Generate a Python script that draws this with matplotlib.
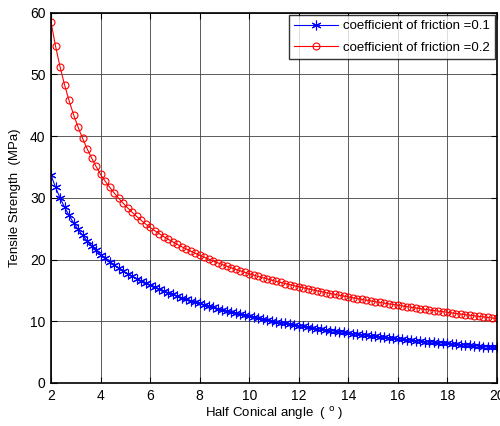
import matplotlib
matplotlib.use("Agg")
import matplotlib.pyplot as plt
import numpy as np

plt.rcParams['font.family'] = ['Liberation Sans', 'DejaVu Sans']

## half conical angle grid (degrees), 100 samples from 2 to 20
angle = np.linspace(2, 20, 100)

## tensile strength (MPa)
strength_mu01 = [
    33.7, 31.72, 30.00, 28.49, 27.16, 25.96, 24.89, 23.92, 23.04, 22.23, 21.49, 20.8,
    20.20, 19.63, 19.11, 18.62, 18.16, 17.73, 17.32, 16.93, 16.57, 16.22, 15.9,
    15.56, 15.23, 14.93, 14.63, 14.35, 14.08, 13.82, 13.58, 13.34, 13.12, 12.9,
    12.68, 12.46, 12.26, 12.06, 11.87, 11.68, 11.50, 11.33, 11.17, 11.00, 10.85,
    10.69, 10.53, 10.37, 10.22, 10.08, 9.94, 9.80, 9.67, 9.54, 9.42, 9.3,
    9.18, 9.05, 8.94, 8.82, 8.71, 8.60, 8.50, 8.39, 8.29, 8.20, 8.1,
    8.00, 7.91, 7.82, 7.73, 7.64, 7.55, 7.47, 7.38, 7.30, 7.23, 7.15,
    7.07, 7.00, 6.93, 6.86, 6.79, 6.72, 6.65, 6.59, 6.52, 6.46, 6.4,
    6.33, 6.27, 6.21, 6.15, 6.09, 6.03, 5.97, 5.91, 5.86, 5.80, 5.75,
]
strength_mu02 = [
    58.5, 54.61, 51.27, 48.35, 45.79, 43.51, 41.48, 39.65, 37.99, 36.48, 35.10, 33.8,
    32.73, 31.74, 30.81, 29.95, 29.14, 28.39, 27.67, 27.00, 26.37, 25.77, 25.2,
    24.69, 24.21, 23.74, 23.30, 22.88, 22.48, 22.09, 21.72, 21.37, 21.03, 20.7,
    20.38, 20.07, 19.77, 19.48, 19.20, 18.93, 18.67, 18.42, 18.17, 17.94, 17.7,
    17.48, 17.27, 17.06, 16.86, 16.66, 16.47, 16.29, 16.11, 15.94, 15.77, 15.6,
    15.43, 15.27, 15.11, 14.95, 14.80, 14.65, 14.50, 14.36, 14.22, 14.08, 13.95,
    13.81, 13.68, 13.55, 13.42, 13.30, 13.17, 13.05, 12.94, 12.82, 12.71, 12.6,
    12.49, 12.37, 12.26, 12.15, 12.05, 11.94, 11.84, 11.74, 11.64, 11.55, 11.45,
    11.35, 11.25, 11.16, 11.06, 10.97, 10.88, 10.79, 10.70, 10.62, 10.53, 10.45,
]
labels = ["coefficient of friction =0.1", "coefficient of friction =0.2"]
x_ticks = [2, 4, 6, 8, 10, 12, 14, 16, 18, 20]
y_ticks = [0, 10, 20, 30, 40, 50, 60]

fig = plt.figure(figsize=(5.0, 4.26), dpi=100)
ax = fig.add_axes([0.102, 0.101, 0.892, 0.869])

## matlab-like asterisk: 6 spokes
ax.plot(angle, strength_mu01, color='blue', lw=0.8, marker=(6, 2, 0),
        markersize=7, markeredgewidth=0.8, label=labels[0])
ax.plot(angle, strength_mu02, color='red', lw=0.8, marker='o',
        markersize=5, markerfacecolor='none', markeredgewidth=0.8, label=labels[1])

ax.set_xlim(2, 20)
ax.set_ylim(0, 60)
ax.set_xticks(x_ticks)
ax.set_yticks(y_ticks)
ax.grid(True, color='0.25', lw=0.6, ls='-')
ax.set_axisbelow(True)
ax.tick_params(direction='in', top=True, right=True, length=4, labelsize=10, pad=4)
for s in ax.spines.values():
    s.set_linewidth(1.2)
    s.set_color('black')

ax.set_xlabel("Half Conical angle  ( $^{\\rm o}$ )", fontsize=9.5, labelpad=2)
ax.set_ylabel("Tensile Strength  (MPa)", fontsize=9.5, labelpad=6)

leg = ax.legend(loc='upper right', fontsize=9.5, frameon=True, fancybox=False,
                borderaxespad=0.15, handlelength=3.3, borderpad=0.4,
                labelspacing=0.7, handletextpad=0.4)
leg.get_frame().set_edgecolor('black')
leg.get_frame().set_linewidth(1.0)

fig.savefig("out.png", dpi=100)
